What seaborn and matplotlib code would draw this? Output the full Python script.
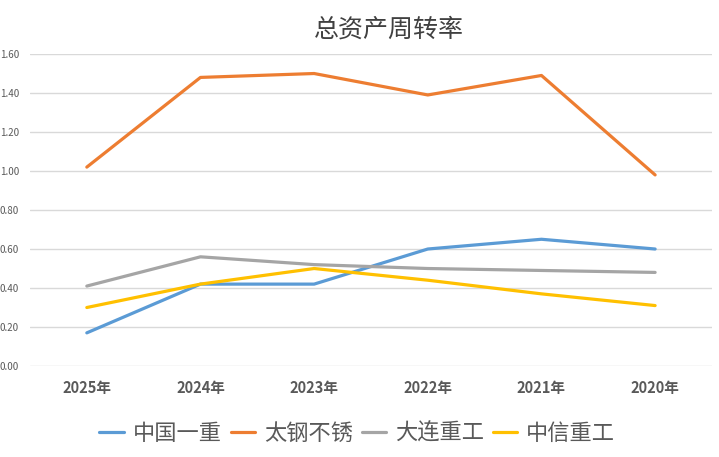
import pandas as pd
import seaborn as sns
import matplotlib.pyplot as plt

years = ["2025年", "2024年", "2023年", "2022年", "2021年", "2020年"]
series_names = ["中国一重", "太钢不锈", "大连重工", "中信重工"]
zgyz = [0.17, 0.42, 0.42, 0.60, 0.65, 0.60]
tgbx = [1.02, 1.48, 1.50, 1.39, 1.49, 0.98]
dlzg = [0.41, 0.56, 0.52, 0.50, 0.49, 0.48]
zxzg = [0.30, 0.42, 0.50, 0.44, 0.37, 0.31]
colors = ["#5B9BD5", "#ED7D31", "#A5A5A5", "#FFC000"]

rows = []
for name, vals in zip(series_names, [zgyz, tgbx, dlzg, zxzg]):
    for y, v in zip(years, vals):
        rows.append({"年份": y, "公司": name, "值": v})
df = pd.DataFrame(rows)

sns.set_style("white")
plt.rcParams['font.family'] = ['Noto Sans CJK SC', 'DejaVu Sans']

fig = plt.figure(figsize=(7.19, 4.57), dpi=100)
ax = fig.add_axes([0.0417, 0.1991, 0.9485, 0.6827])

sns.lineplot(data=df, x="年份", y="值", hue="公司", palette=colors,
             hue_order=series_names, sort=False, linewidth=2.3, ax=ax, legend=False)

ax.set_xlim(-0.5, 5.5)
ax.set_ylim(0, 1.6)
ax.set_yticks([0, 0.2, 0.4, 0.6, 0.8, 1.0, 1.2, 1.4, 1.6])
ax.set_yticklabels([f"{t:.2f}" for t in ax.get_yticks()], fontsize=7, color="#595959")
ax.set_xticks(range(len(years)))
ax.set_xticklabels(years, fontsize=10.5, fontweight="bold", color="#595959")
ax.tick_params(axis="y", length=0, pad=8)
ax.tick_params(axis="x", length=0, pad=10)
ax.grid(axis="y", color="#D9D9D9", linewidth=1)
ax.set_axisbelow(True)
for s in ax.spines.values():
    s.set_visible(False)
ax.set_xlabel("")
ax.set_ylabel("")

fig.text(0.541, 0.936, "总资产周转率", ha="center", va="center", fontsize=18, color="#404040")

handles = [plt.Line2D([], [], color=c, linewidth=2.3) for c in colors]
fig.legend(handles, series_names, loc="center", bbox_to_anchor=(0.497, 0.052), ncol=4,
           frameon=False, fontsize=16, handlelength=1.1, handletextpad=0.4,
           columnspacing=0.4, labelcolor="#595959")

fig.savefig("out.png", dpi=100)
